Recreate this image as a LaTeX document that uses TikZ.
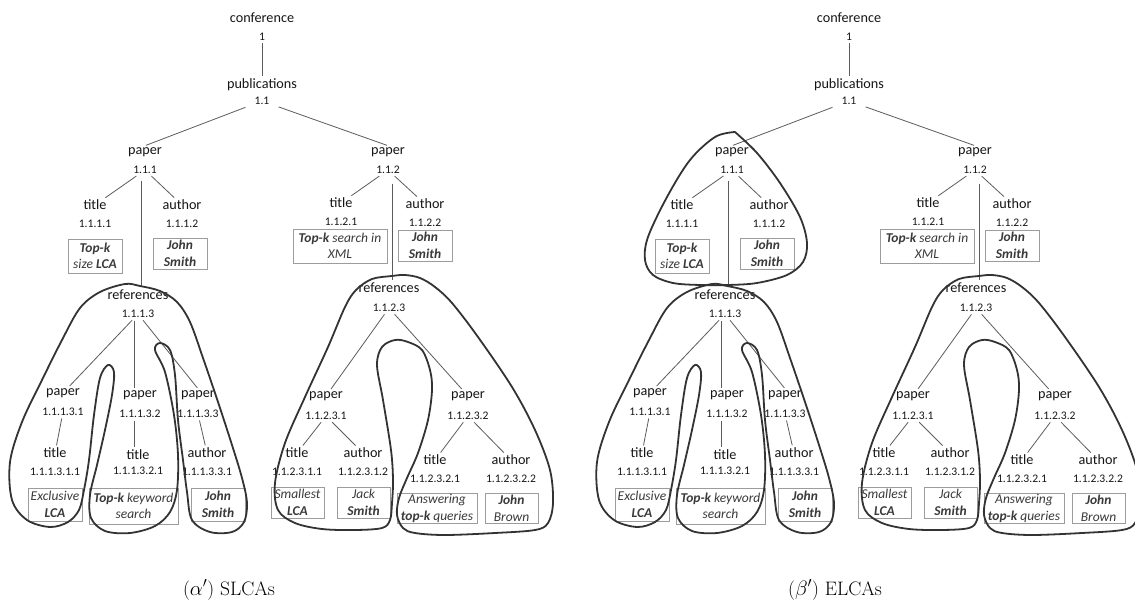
\documentclass[tikz,border=0pt]{standalone}
\usepackage{fontspec}
\setmainfont{Carlito}
\newfontfamily\capfont{Latin Modern Roman}
\definecolor{inkdark}{HTML}{161616}
\definecolor{edgegray}{HTML}{5C5C5C}
\definecolor{boxgray}{HTML}{9C9C9C}
\definecolor{hullgray}{HTML}{333333}
\definecolor{leaftext}{HTML}{3A3A3A}

\tikzset{
  tag/.style={inner sep=1.5pt, text=inkdark, font=\fontsize{14.2}{16}\selectfont},
  dewey/.style={inner sep=1.5pt, text=inkdark, font=\fontsize{11.6}{13}\selectfont},
  leaf/.style={draw=boxgray, line width=0.8pt, align=center, inner sep=1pt,
    text=leaftext, font=\fontsize{13.5}{16.5}\selectfont\itshape},
  edge/.style={draw=edgegray, line width=0.8pt, shorten <=1pt, shorten >=1pt},
  hull/.style={draw=hullgray, line width=1.8pt, line join=round, line cap=round},
}

% the document tree with its Dewey numbers and text values
\newcommand{\xmltree}{%
  \node[tag]   (c)    at (262,18)  {conference};
  \node[dewey] (cn)   at (262,37)  {1};
  \node[tag]   (pub)  at (262,85)  {publications};
  \node[dewey] (pubn) at (262,101) {1.1};
  \node[tag]   (pa)   at (145,152) {paper};
  \node[dewey] (pan)  at (145,170) {1.1.1};
  \node[tag]   (pb)   at (388,152) {paper};
  \node[dewey] (pbn)  at (388,170) {1.1.2};
  \node[tag]   (ta)   at (95,205)  {title};
  \node[dewey] (tan)  at (95,224)  {1.1.1.1};
  \node[tag]   (aa)   at (182,205) {author};
  \node[dewey] (aan)  at (182,224) {1.1.1.2};
  \node[tag]   (tb)   at (341,203) {title};
  \node[dewey] (tbn)  at (341,222) {1.1.2.1};
  \node[tag]   (ab)   at (425,204) {author};
  \node[dewey] (abn)  at (425,223) {1.1.2.2};
  \node[tag]   (ra)   at (138,295) {references};
  \node[dewey] (ran)  at (138,314) {1.1.1.3};
  \node[tag]   (rb)   at (389,288) {references};
  \node[dewey] (rbn)  at (389,308) {1.1.2.3};
  \node[tag]   (pa1)  at (63,393)  {paper};
  \node[dewey] (pa1n) at (63,412)  {1.1.1.3.1};
  \node[tag]   (pa2)  at (140,395) {paper};
  \node[dewey] (pa2n) at (140,414) {1.1.1.3.2};
  \node[tag]   (pa3)  at (198,395) {paper};
  \node[dewey] (pa3n) at (198,414) {1.1.1.3.3};
  \node[tag]   (ta1)  at (55,453)  {title};
  \node[dewey] (ta1n) at (55,472)  {1.1.1.3.1.1};
  \node[tag]   (ta2)  at (138,455) {title};
  \node[dewey] (ta2n) at (138,471) {1.1.1.3.2.1};
  \node[tag]   (aa3)  at (207,453) {author};
  \node[dewey] (aa3n) at (207,472) {1.1.1.3.3.1};
  \node[tag]   (pb1)  at (326,396) {paper};
  \node[dewey] (pb1n) at (326,416) {1.1.2.3.1};
  \node[tag]   (pb2)  at (468,396) {paper};
  \node[dewey] (pb2n) at (468,416) {1.1.2.3.2};
  \node[tag]   (tb1)  at (297,453) {title};
  \node[dewey] (tb1n) at (297,472) {1.1.2.3.1.1};
  \node[tag]   (ab1)  at (363,453) {author};
  \node[dewey] (ab1n) at (363,472) {1.1.2.3.1.2};
  \node[tag]   (tb2)  at (435,460) {title};
  \node[dewey] (tb2n) at (435,479) {1.1.2.3.2.1};
  \node[tag]   (ab2)  at (511,460) {author};
  \node[dewey] (ab2n) at (511,479) {1.1.2.3.2.2};
  % text values
  \node[leaf, minimum width=54, minimum height=34] (va)  at (95,256)    {\textbf{Top-k}\\size \textbf{LCA}};
  \node[leaf, minimum width=54, minimum height=31] (vb)  at (180,253.5) {\textbf{John}\\\textbf{Smith}};
  \node[leaf, minimum width=94, minimum height=34] (vc)  at (340,246)   {\textbf{Top-k} search in\\XML};
  \node[leaf, minimum width=54, minimum height=31] (vd)  at (425,245.5) {\textbf{John}\\\textbf{Smith}};
  \node[leaf, minimum width=54, minimum height=33] (ve)  at (55,504.5)  {Exclusive\\\textbf{LCA}};
  \node[leaf, minimum width=89, minimum height=36] (vf)  at (133.5,506) {\textbf{Top-k} keyword\\search};
  \node[leaf, minimum width=54, minimum height=33] (vg)  at (218,504.5) {\textbf{John}\\\textbf{Smith}};
  \node[leaf, minimum width=53, minimum height=31] (vh)  at (297.5,502.5) {Smallest\\\textbf{LCA}};
  \node[leaf, minimum width=53, minimum height=31] (vi)  at (363.5,502.5) {Jack\\\textbf{Smith}};
  \node[leaf, minimum width=80, minimum height=30] (vj)  at (437,508.5) {Answering\\\textbf{top-k} queries};
  \node[leaf, minimum width=53, minimum height=30] (vk)  at (511.5,508.5) {\textbf{John}\\Brown};
  % parent-child edges
  \draw[edge] (cn) -- (pub);
  \draw[edge, shorten <=8pt] (pubn) -- (pa.north);
  \draw[edge, shorten <=8pt] (pubn) -- (pb.north);
  \draw[edge] (pan) -- (ta);
  \draw[edge] (pan) -- (aa);
  \draw[edge, shorten <=6pt] ([xshift=-4pt]pan.south) -- ([xshift=-4pt]pan.south |- ra.north);
  \draw[edge] (pbn) -- (tb);
  \draw[edge] (pbn) -- (ab);
  \draw[edge, shorten <=8pt] ([xshift=4pt]pbn.south) -- ([xshift=4pt]pbn.south |- rb.north);
  \draw[edge] (ran) -- (pa1);
  \draw[edge] ([xshift=-4pt]ran.south) -- ([xshift=-4pt]ran.south |- pa2.north);
  \draw[edge] (ran) -- (pa3.north);
  \draw[edge] (pa1n) -- (ta1);
  \draw[edge] ([xshift=-6pt]pa2n.south) -- ([xshift=-6pt]pa2n.south |- ta2.north);
  \draw[edge] (pa3n) -- (aa3);
  \draw[edge] (rbn) -- (pb1);
  \draw[edge] (rbn) -- (pb2);
  \draw[edge] (pb1n) -- (tb1);
  \draw[edge] (pb1n) -- (ab1);
  \draw[edge] (pb2n) -- (tb2);
  \draw[edge] (pb2n) -- (ab2);
  % answer regions below the two reference lists
  \draw[hull] plot[smooth cycle, tension=0.55] coordinates {
    (125,284) (100,292) (80,308) (62,340) (42,380) (22,422) (10,462) (12,500)
    (27,520) (50,527) (68,522) (79,510) (84,490) (89,460) (94,415) (100,378)
    (108,365) (114,372) (112,395) (105,430) (97,465) (90,495) (91,518) (105,531)
    (130,533) (155,526) (170,512) (177,490) (178,455) (174,415) (165,372) (155,350)
    (160,343) (170,350) (175,375) (178,420) (183,460) (187,492) (192,520) (210,532)
    (232,532) (244,522) (247,503) (242,478) (232,445) (218,402) (203,358) (190,322)
    (177,302) (160,291) (140,286)};
  \draw[hull] plot[smooth cycle, tension=0.55] coordinates {
    (392,276) (372,279) (356,290) (345,307) (328,347) (305,397) (285,443) (275,483)
    (278,510) (295,523) (322,529) (355,530) (382,528) (390,520) (392,503) (393,480)
    (391,450) (383,400) (377,365) (382,347) (395,340) (408,342) (422,350) (430,370)
    (432,390) (428,420) (418,453) (407,478) (399,498) (397,515) (403,528) (415,533)
    (445,535) (495,533) (535,530) (548,523) (553,503) (550,470) (535,430) (512,387)
    (478,337) (452,303) (435,287) (420,278) (405,275)};
}

\begin{document}
\begin{tikzpicture}[x=1pt, y=-1pt]
  \useasboundingbox[fill=white] (0,0) rectangle (1135,610);

  % SLCA answers
  \begin{scope}[name prefix=L-]
    \xmltree
  \end{scope}

  % ELCA answers: same tree, plus the paper 1.1.1 region
  \begin{scope}[xshift=587pt, name prefix=R-]
    \xmltree
    \draw[hull] plot[smooth, tension=0.55] coordinates {
      (148,132) (170,153) (193,183) (213,217) (220,243) (216,262) (200,275)
      (170,283) (141,285) (113,285) (86,283) (66,275) (58,260) (61,237)
      (80,197) (103,160) (128,137) (148,132)};
  \end{scope}

  \node[font=\capfont\fontsize{19.5}{22}\selectfont] (capA) at (229,590) {($\alpha'$) SLCAs};
  \node[font=\capfont\fontsize{19.5}{22}\selectfont] (capB) at (835,590) {($\beta'$) ELCAs};
\end{tikzpicture}
\end{document}
